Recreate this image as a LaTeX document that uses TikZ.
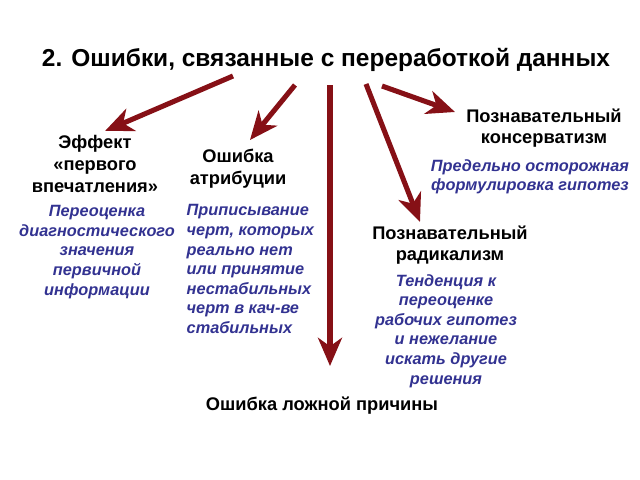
\documentclass[tikz,border=0pt]{standalone}
\usepackage{fontspec}
\setmainfont{Liberation Sans}
\usetikzlibrary{arrows.meta}
\definecolor{arrowred}{RGB}{134,16,22}
\definecolor{noteblue}{RGB}{50,50,145}

\begin{document}
\begin{tikzpicture}[x=0.025cm,y=-0.025cm,
	label/.style = {font=\fontsize{13}{15.4}\selectfont\bfseries, align=center, inner sep=1pt},
	note/.style = {font=\fontsize{11.6}{13.9}\selectfont\bfseries\itshape, text=noteblue, align=center, inner sep=1pt},
	pointer/.style = {line width=3.6pt, arrowred, -{Stealth[length=20pt,width=17pt,inset=6pt]}}]
				\useasboundingbox (0,0) rectangle (640,480);
				\node[font=\fontsize{17.4}{20}\selectfont\bfseries] (title) at (326,60) {2. Ошибки, связанные с переработкой данных};
				\begin{scope}[every node/.style={label}]
					\node (effect) at (95,164) {Эффект\\«первого\\впечатления»};
					\node (attr) at (238,169) {Ошибка\\атрибуции};
					\node (cons) at (544,128) {Познавательный\\консерватизм};
					\node (radical) at (450,245) {Познавательный\\радикализм};
					\node (false) at (322,406) {Ошибка ложной причины};
				\end{scope}
				\begin{scope}[every node/.style={note}]
					\node (effectnote) at (97,252) {Переоценка\\диагностического\\значения\\первичной\\информации};
					\node[align=left, anchor=north west] (attrnote) at (185,203) {Приписывание\\черт, которых\\реально нет\\или принятие\\нестабильных\\черт в кач-ве\\стабильных};
					\node (consnote) at (530,177) {Предельно осторожная\\формулировка гипотез};
					\node (radicalnote) at (446,331) {Тенденция к\\переоценке\\рабочих гипотез\\и нежелание\\искать другие\\решения};
				\end{scope}
				% tails under the title, tips just above the labels
				\coordinate (t1) at (233,76);
				\coordinate (t2) at (295,85);
				\coordinate (t3) at (330,85);
				\coordinate (t4) at (366,84);
				\coordinate (t5) at (382,86);
				\coordinate (h1) at (105,131);
				\coordinate (h2) at (250,140);
				\coordinate (h3) at (330,366);
				\coordinate (h4) at (420,222);
				\coordinate (h5) at (455,112);
				\draw [pointer] (t1) -- (h1);
				\draw [pointer] (t2) -- (h2);
				\draw [pointer] (t3) -- (h3);
				\draw [pointer] (t4) -- (h4);
				\draw [pointer] (t5) -- (h5);
			\end{tikzpicture}
\end{document}
